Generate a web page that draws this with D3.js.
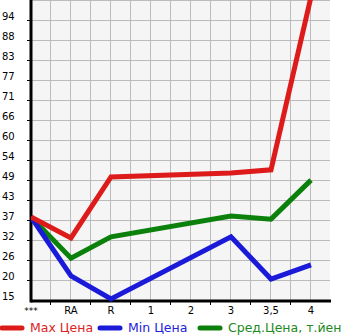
<!DOCTYPE html>
<html>
<head>
  <script src="https://d3js.org/d3.v7.min.js"></script>
  <style>
    body { margin: 0; background: #fff; }
    text { font-family: "DejaVu Sans", sans-serif; }
    .grid line { stroke: #bbbbbb; stroke-width: 1; }
  </style>
</head>
<body>
  <div id="chart"></div>

  <script>
    // categories along the x axis
    var categories = ["***", "RA", "R", "1", "2", "3", "3,5", "4"];
    // prices (null = no data)
    var maxPrice = [38.4, 32.5, 49.7, null, null, 50.8, 51.7, 100.5];
    var minPrice = [38.4, 21.8, 15.3, null, null, 32.8, 20.9, 24.9];
    var avgPrice = [38.4, 26.8, 32.8, null, null, 38.7, 37.8, 48.8];
    var yTickLabels = ["15", "20", "26", "32", "37", "43", "49", "54", "60", "66", "71", "77", "83", "88", "94"];
    var yStep = 5.64;

    var pLeft = 31, pRight = 330, pTop = 0, pBottom = 300;

    var svg = d3.select("#chart")
      .append("svg")
      .attr("width", 345)
      .attr("height", 335);

    var x = d3.scalePoint()
      .domain(categories)
      .range([pLeft, pLeft + 40 * (categories.length - 1)]);

    var y = d3.scaleLinear()
      .domain([15, 15 + yStep * 15])
      .range([pBottom, pTop]);

    var yTicks = yTickLabels.map(function(d, i) { return 15 + yStep * i; });

    // plot background
    svg.append("rect")
      .attr("x", pLeft).attr("y", pTop)
      .attr("width", pRight - pLeft).attr("height", pBottom - pTop)
      .attr("fill", "#f5f5f5");

    // grid
    var grid = svg.append("g").attr("class", "grid");
    d3.range(pLeft + 20, pRight + 1, 20).forEach(function(gx) {
      grid.append("line").attr("x1", gx - 0.5).attr("x2", gx - 0.5).attr("y1", pTop).attr("y2", pBottom);
    });
    d3.range(1, 15).forEach(function(i) {
      var gy = Math.round(y(15 + yStep * i)) + 0.5;
      grid.append("line").attr("x1", pLeft).attr("x2", pRight).attr("y1", gy).attr("y2", gy);
    });
    grid.append("line").attr("x1", pLeft).attr("x2", pRight).attr("y1", 0.5).attr("y2", 0.5);

    // y axis
    var yAxis = svg.append("g");
    yTicks.forEach(function(v, i) {
      if (i > 0) {
        yAxis.append("line")
          .attr("x1", pLeft - 4).attr("x2", pLeft)
          .attr("y1", Math.round(y(v)) + 0.5).attr("y2", Math.round(y(v)) + 0.5)
          .attr("stroke", "#000").attr("stroke-width", 1);
      }
      yAxis.append("text")
        .attr("x", 2)
        .attr("y", y(v) - 0.5)
        .attr("font-size", 10)
        .attr("fill", "#000")
        .text(yTickLabels[i]);
    });

    // x axis ticks (between categories)
    var xAxis = svg.append("g");
    d3.range(pLeft + 20, pRight + 1, 40).forEach(function(tx) {
      xAxis.append("line")
        .attr("x1", tx - 0.5).attr("x2", tx - 0.5)
        .attr("y1", pBottom).attr("y2", pBottom + 5)
        .attr("stroke", "#000").attr("stroke-width", 1);
    });
    categories.forEach(function(c) {
      xAxis.append("text")
        .attr("x", x(c))
        .attr("y", 314)
        .attr("text-anchor", "middle")
        .attr("font-size", c === "***" ? 9 : 10)
        .attr("fill", "#000")
        .text(c);
    });

    svg.append("line")
      .attr("x1", pLeft).attr("x2", pRight + 1)
      .attr("y1", pBottom + 1).attr("y2", pBottom + 1)
      .attr("stroke", "#000").attr("stroke-width", 3);
    svg.append("line")
      .attr("x1", pLeft).attr("x2", pLeft)
      .attr("y1", 0).attr("y2", pBottom + 2.5)
      .attr("stroke", "#000").attr("stroke-width", 3);

    // series lines
    var series = [
      { name: "Max Цена", values: maxPrice, color: "#dd1b1b", text: "#dd2222" },
      { name: "Min Цена", values: minPrice, color: "#1a1ad8", text: "#2222dd" },
      { name: "Сред.Цена, т.йен", values: avgPrice, color: "#0b800b", text: "#228822" }
    ];

    svg.append("clipPath").attr("id", "plot-clip")
      .append("rect").attr("x", pLeft).attr("y", pTop)
      .attr("width", pRight - pLeft).attr("height", pBottom - pTop + 3);

    var line = d3.line()
      .x(function(d) { return x(d.c); })
      .y(function(d) { return y(d.v); });

    var plot = svg.append("g").attr("clip-path", "url(#plot-clip)");
    series.slice().reverse().forEach(function(s) {
      var pts = [];
      s.values.forEach(function(v, i) {
        if (v !== null) pts.push({ c: categories[i], v: v });
      });
      plot.append("path")
        .datum(pts)
        .attr("fill", "none")
        .attr("stroke", s.color)
        .attr("stroke-width", 5)
        .attr("stroke-linejoin", "miter")
        .attr("d", line);
    });

    // legend
    var legendX = [0, 98, 198];
    series.forEach(function(s, i) {
      svg.append("line")
        .attr("x1", legendX[i] + 2).attr("x2", legendX[i] + 22)
        .attr("y1", 328).attr("y2", 328)
        .attr("stroke", s.color)
        .attr("stroke-width", 5)
        .attr("stroke-linecap", "round");
      svg.append("text")
        .attr("x", legendX[i] + 30)
        .attr("y", 332)
        .attr("font-size", 12.5)
        .attr("fill", s.text)
        .text(s.name);
    });
  </script>
</body>
</html>
